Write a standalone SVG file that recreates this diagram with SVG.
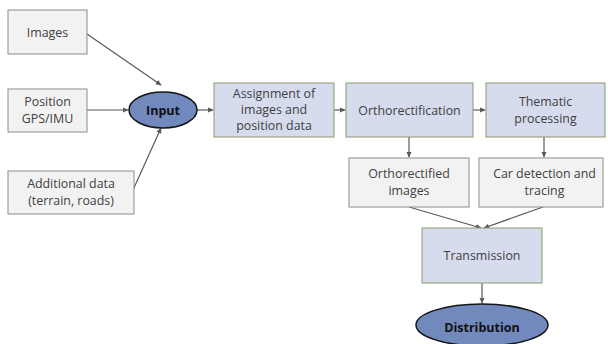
<svg xmlns="http://www.w3.org/2000/svg" width="608" height="344" viewBox="0 0 608 344">
<style>
.g{fill:#f2f2f2;stroke:#8c8c8c;stroke-width:1}
.b{fill:#d6dcee;stroke:#8a9a6e;stroke-width:1}
.e{fill:#7189bd;stroke:#151515;stroke-width:1.5}
.t{font-family:"Open Sans",sans-serif;font-size:12.4px;fill:#404040;text-anchor:middle}
.tb{font-family:"Open Sans",sans-serif;font-size:12.5px;font-weight:bold;fill:#111;text-anchor:middle}
.c{stroke:#5a5a5a;stroke-width:1.2;fill:none;marker-end:url(#a)}
</style>
<defs>
<marker id="a" viewBox="0 0 8 8" refX="7" refY="4" markerWidth="6" markerHeight="6" orient="auto" markerUnits="userSpaceOnUse">
<path d="M0,0.5 L8,4 L0,7.5 Z" fill="#5a5a5a"/>
</marker>
</defs>
<g id="connectors">
<line class="c" x1="87" y1="34" x2="161" y2="85"/>
<line class="c" x1="87" y1="110" x2="128" y2="110"/>
<line class="c" x1="133" y1="190" x2="161" y2="128"/>
<line class="c" x1="197" y1="110" x2="213" y2="110"/>
<line class="c" x1="334" y1="110" x2="345" y2="110"/>
<line class="c" x1="473" y1="110" x2="485" y2="110"/>
<line class="c" x1="409" y1="137" x2="409" y2="157"/>
<line class="c" x1="544" y1="137" x2="544" y2="157"/>
<line class="c" x1="409" y1="207" x2="481" y2="228"/>
<line class="c" x1="543" y1="207" x2="484" y2="228"/>
<line class="c" x1="482" y1="283" x2="482" y2="303"/>
</g>
<g id="images">
<rect class="g" x="8" y="10" width="79" height="44"/>
<text class="t" x="47.5" y="36.5">Images</text>
</g>
<g id="position">
<rect class="g" x="8" y="89" width="79" height="43"/>
<text class="t" x="47.5" y="106">Position</text>
<text class="t" x="47.5" y="123">GPS/IMU</text>
</g>
<g id="additional">
<rect class="g" x="8" y="171" width="126" height="43"/>
<text class="t" x="71" y="188">Additional data</text>
<text class="t" x="71" y="205">(terrain, roads)</text>
</g>
<g id="input">
<ellipse class="e" cx="163" cy="110" rx="34" ry="18"/>
<text class="tb" x="163" y="114.5">Input</text>
</g>
<g id="assignment">
<rect class="b" x="214" y="83" width="120" height="54"/>
<text class="t" x="274" y="98">Assignment of</text>
<text class="t" x="274" y="114">images and</text>
<text class="t" x="274" y="130">position data</text>
</g>
<g id="orthorectification">
<rect class="b" x="346" y="83" width="127" height="54"/>
<text class="t" x="409.5" y="114.5">Orthorectification</text>
</g>
<g id="thematic">
<rect class="b" x="486" y="83" width="119" height="54"/>
<text class="t" x="545.5" y="106">Thematic</text>
<text class="t" x="545.5" y="123">processing</text>
</g>
<g id="orthoimages">
<rect class="g" x="349" y="158" width="120" height="49"/>
<text class="t" x="409" y="178">Orthorectified</text>
<text class="t" x="409" y="195">images</text>
</g>
<g id="cardetection">
<rect class="g" x="479" y="158" width="124" height="49"/>
<text class="t" x="544.5" y="178">Car detection and</text>
<text class="t" x="544.5" y="195">tracing</text>
</g>
<g id="transmission">
<rect class="b" x="422" y="228" width="120" height="55"/>
<text class="t" x="482" y="259.5">Transmission</text>
</g>
<g id="distribution">
<ellipse class="e" cx="482" cy="325" rx="66" ry="21"/>
<text class="tb" x="482" y="332">Distribution</text>
</g>
</svg>
